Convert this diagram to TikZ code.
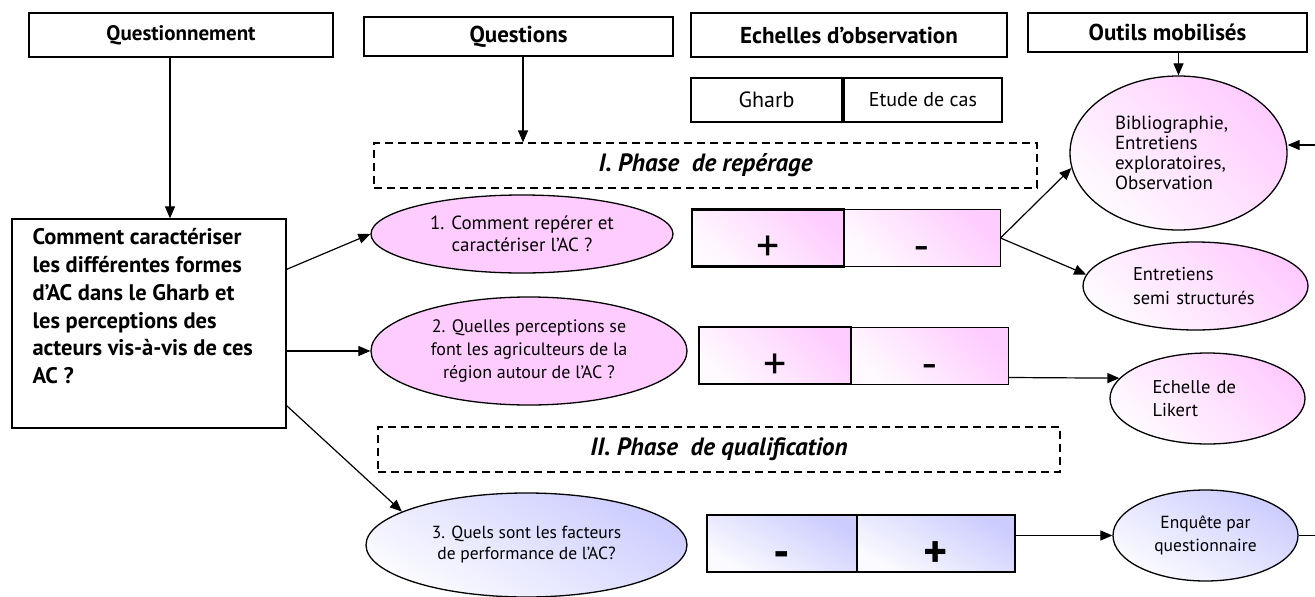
\documentclass[tikz,border=0pt]{standalone}
\usepackage{fontspec}
\setmainfont{PT Sans}
\usetikzlibrary{arrows.meta, shapes.geometric}
\definecolor{roseC}{RGB}{255,204,255}
\definecolor{lilasC}{RGB}{204,204,255}

\begin{document}
\begin{tikzpicture}[x=1pt, y=-1pt, line width=1pt,
    titre/.style={rectangle, draw, line width=1.3pt, inner sep=0pt, font=\fontsize{23}{26}\selectfont\bfseries},
    echelle/.style={rectangle, draw, line width=1.3pt, inner sep=0pt, minimum height=44pt},
    phase/.style={rectangle, draw, line width=1.2pt, dash pattern=on 8pt off 5pt, inner sep=0pt, minimum height=45pt, font=\fontsize{25}{28}\selectfont\bfseries\itshape},
    bulle/.style={ellipse, draw, line width=1.3pt, inner sep=0pt, align=center},
    outil/.style={ellipse, draw, line width=1.3pt, inner sep=0pt, align=left},
    rose/.style={top color=roseC, bottom color=roseC!10, shading angle=-45},
    lilas/.style={top color=lilasC, bottom color=lilasC!8, shading angle=-30},
    signe/.style={rectangle, draw, line width=1pt, inner sep=0pt, minimum height=57pt, text height=47pt, text depth=0pt, font=\fontsize{46}{46}\selectfont},
    fort/.style={line width=2.4pt},
    fl/.style={-{Triangle[length=12pt, width=10pt]}, line width=1.2pt}]
    \useasboundingbox (0,0) rectangle (1315,597);

    % en-tetes
    \node[titre, minimum width=304pt, minimum height=44pt, font=\fontsize{21}{24}\selectfont\bfseries] at (181,35) (qnt) {Questionnement};
    \node[titre, minimum width=309pt, minimum height=39pt] at (518.5,36.5) (qst) {Questions};
    \node[titre, minimum width=316pt, minimum height=44pt] at (849,35) (ech) {Echelles d’observation};
    \node[titre, minimum width=279pt, minimum height=39pt] at (1167.5,32.5) (out) {Outils mobilisés};

    \node[echelle, minimum width=151pt, font=\fontsize{22}{24}\selectfont] at (766.5,100) (gharb) {Gharb};
    \node[echelle, minimum width=158pt, font=\fontsize{20}{22}\selectfont] at (923,100) (etude) {Etude de cas};

    % questionnement
    \node[draw, line width=1.3pt, minimum width=274pt, minimum height=209pt] at (149,323.5) (qmain) {};
    \node[anchor=north west, align=left, inner sep=0pt, font=\fontsize{22.5}{27.8}\selectfont\bfseries] at (32,228) (qmainT)
        {Comment caractériser\\ les différentes formes\\ d’AC dans le Gharb et\\ les perceptions des\\ acteurs vis-à-vis de ces\\ AC ?};

    % phases
    \node[phase, minimum width=663pt] at (705.5,165.5) (ph1) {I. Phase\ \ de repérage};
    \node[phase, minimum width=682pt] at (719,449.5) (ph2) {II. Phase\ \ de qualification};

    % questions
    \node[bulle, fill=roseC, minimum width=302pt, minimum height=78pt, font=\fontsize{19}{22}\selectfont] at (522,234) (q1)
        {1. Comment repérer et\\ caractériser l’AC ?};
    \node[bulle, fill=roseC, minimum width=316pt, minimum height=108pt, font=\fontsize{18}{23}\selectfont] at (529,351) (q2)
        {2. Quelles perceptions se\\ font les agriculteurs de la\\ région autour de l’AC ?};
    \node[bulle, lilas, minimum width=321pt, minimum height=104pt, font=\fontsize{17.5}{21}\selectfont] at (526.5,545) (q3)
        {3. Quels sont les facteurs\\ de performance de l’AC?};

    % echelles +/-
    \node[signe, rose, minimum width=156pt] at (922,238) (c1m) {-};
    \node[signe, fort, rose, minimum width=152pt] at (768,238) (c1p) {+};
    \node[signe, rose, minimum width=157pt] at (929.5,355.5) (c2m) {-};
    \node[signe, fort, rose, minimum width=152pt] at (775,355.5) (c2p) {+};
    \node[signe, lilas, line width=1.5pt, minimum width=150pt, font=\fontsize{46}{46}\selectfont\bfseries] at (782,543.5) (c3m) {-};
    \node[signe, fort, lilas, minimum width=158pt, font=\fontsize{46}{46}\selectfont\bfseries] at (936,543.5) (c3p) {+};

    % outils
    \node[outil, rose, minimum width=217pt, minimum height=154pt, text width=127pt, font=\fontsize{19}{20}\selectfont] at (1178.5,153) (biblio)
        {Bibliographie,\\ Entretiens\\ exploratoires,\\ Observation};
    \node[outil, rose, minimum width=225pt, minimum height=88pt, text width=125pt, font=\fontsize{18.5}{24}\selectfont] at (1195.5,286) (semi)
        {Entretiens\\ semi structurés};
    \node[outil, rose, minimum width=195pt, minimum height=91pt, text width=110pt, font=\fontsize{18.5}{23}\selectfont] at (1207.5,398.5) (likert)
        {Echelle de\\ Likert};
    \node[bulle, lilas, minimum width=185pt, minimum height=91pt, font=\fontsize{17.5}{23}\selectfont] at (1205.5,535.5) (enq)
        {Enquête par\\ questionnaire};

    \coordinate (bordH) at (1315,145);
    \coordinate (bordB) at (1315,535.5);

    \draw[fl] ([xshift=-11pt]qnt.south) -- ([xshift=-11pt]qnt.south |- qmain.north);
    \draw[fl] ([xshift=4.5pt]qst.south) -- ([xshift=4.5pt]qst.south |- ph1.north);
    \draw[fl] (biblio.north |- out.south) -- (biblio.north);
    \draw[fl] ([yshift=-51pt]qmain.north east) -- (q1.west);
    \draw[fl] (qmain.east |- q2.west) -- (q2.west);
    \draw[fl] ([yshift=23pt]qmain.south east) -- (q3.165);
    \draw[fl] (c1m.east) -- (biblio.188);
    \draw[fl] (c1m.east) -- (semi.174);
    \draw[fl] ([yshift=-22pt]c2m.east) -- (likert.167);
    \draw[fl] (c3p.east |- enq.west) -- (enq.west);
    \draw[line width=1.2pt] (enq.east) -- (bordB);
    \draw[fl] (bordH) -- (biblio.east |- bordH);
\end{tikzpicture}
\end{document}
